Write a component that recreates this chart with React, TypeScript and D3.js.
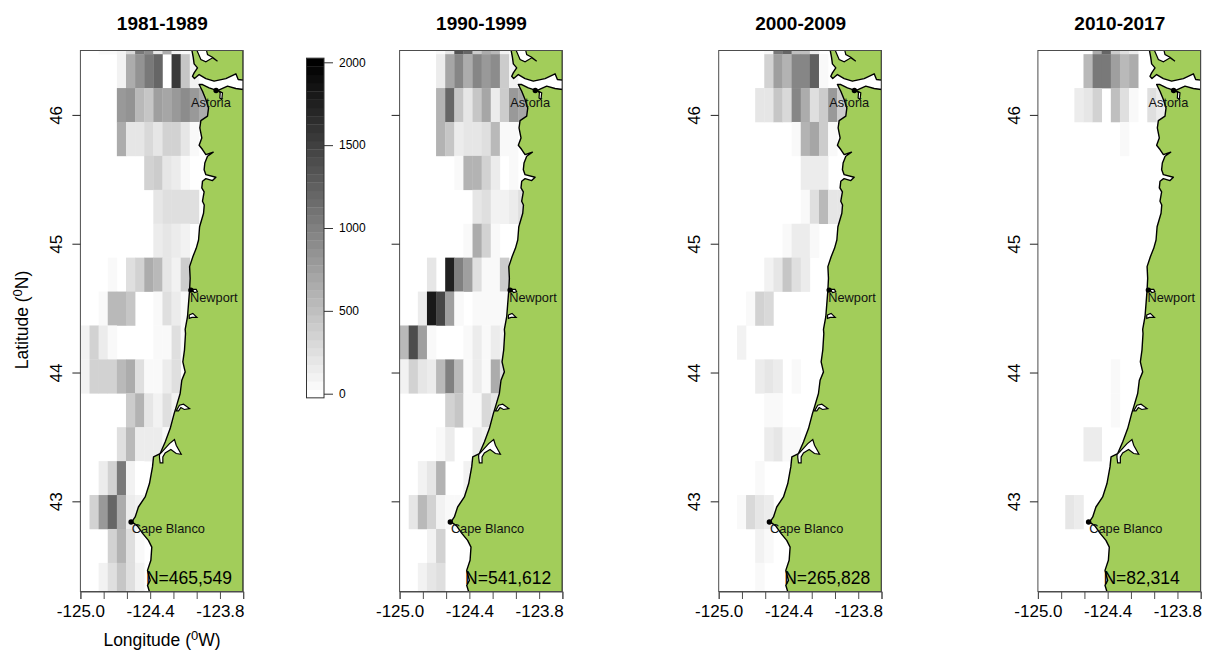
import React, { useEffect, useRef } from 'react';
import * as d3 from 'd3';

const width = 1206;
const height = 651;

const periods = ['1981-1989', '1990-1999', '2000-2009', '2010-2017'];
const totals = ['N=465,549', 'N=541,612', 'N=265,828', 'N=82,314'];

// catch per grid cell, rows north to south, columns west to east
const cells1981 = [
  [0, 0, 30, 60, 100, 300, 1050, 900, 200, 650, 100, 60, 0, 0],
  [0, 0, 0, 0, 80, 650, 870, 1050, 1180, 0, 1560, 430, 110, 0],
  [0, 0, 0, 0, 800, 870, 540, 470, 750, 680, 800, 880, 800, 650],
  [0, 0, 0, 0, 650, 210, 210, 310, 180, 340, 340, 210, 70, 0],
  [0, 0, 0, 0, 0, 0, 0, 340, 400, 210, 130, 70, 0, 0],
  [0, 0, 0, 0, 0, 0, 0, 0, 210, 240, 240, 270, 270, 0],
  [0, 0, 0, 0, 0, 0, 0, 0, 130, 210, 130, 110, 0, 0],
  [0, 0, 0, 70, 0, 240, 370, 650, 540, 210, 110, 400, 0, 0],
  [0, 0, 70, 540, 560, 470, 0, 0, 70, 270, 130, 50, 0, 0],
  [110, 370, 130, 70, 0, 0, 0, 0, 70, 70, 240, 70, 0, 0],
  [80, 340, 340, 340, 540, 650, 270, 70, 70, 130, 270, 0, 0, 0],
  [0, 0, 0, 0, 0, 400, 590, 210, 110, 240, 110, 0, 0, 0],
  [0, 0, 0, 0, 240, 560, 130, 130, 130, 70, 0, 0, 0, 0],
  [0, 0, 130, 340, 1050, 110, 20, 0, 0, 0, 0, 0, 0, 0],
  [0, 370, 800, 1200, 650, 130, 80, 0, 0, 0, 0, 0, 0, 0],
  [0, 0, 0, 340, 620, 240, 40, 0, 0, 0, 0, 0, 0, 0],
  [0, 0, 110, 270, 470, 240, 80, 0, 0, 0, 0, 0, 0, 0],
];

const cells1990 = [
  [0, 0, 0, 20, 60, 200, 1330, 1200, 400, 650, 540, 80, 0, 0],
  [0, 0, 0, 0, 130, 700, 940, 650, 940, 800, 910, 400, 110, 0],
  [0, 0, 0, 0, 620, 1200, 470, 210, 470, 700, 130, 400, 800, 680],
  [0, 0, 0, 0, 620, 430, 130, 210, 210, 240, 540, 50, 70, 0],
  [0, 0, 0, 0, 0, 0, 70, 620, 590, 370, 130, 0, 50, 0],
  [0, 0, 0, 0, 0, 0, 0, 0, 210, 240, 110, 110, 130, 240],
  [0, 0, 0, 0, 0, 0, 0, 70, 650, 340, 50, 0, 0, 0],
  [0, 0, 0, 210, 0, 1730, 1000, 750, 270, 50, 50, 400, 0, 0],
  [0, 0, 130, 1800, 1470, 750, 50, 0, 50, 50, 50, 50, 0, 0],
  [540, 1400, 750, 50, 0, 0, 0, 70, 130, 50, 130, 80, 0, 0],
  [110, 370, 210, 150, 560, 1000, 540, 50, 130, 70, 650, 270, 0, 0],
  [0, 0, 0, 0, 0, 370, 430, 70, 70, 310, 180, 0, 0, 0],
  [0, 0, 0, 0, 70, 130, 0, 0, 130, 80, 0, 0, 0, 0],
  [0, 0, 110, 180, 620, 0, 0, 80, 0, 0, 0, 0, 0, 0],
  [0, 210, 540, 370, 110, 70, 50, 0, 0, 0, 0, 0, 0, 0],
  [0, 0, 0, 110, 370, 0, 0, 0, 0, 0, 0, 0, 0, 0],
  [0, 0, 110, 210, 240, 0, 0, 0, 0, 0, 0, 0, 0, 0],
];

const cells2000 = [
  [0, 0, 0, 0, 0, 40, 1050, 1200, 500, 500, 130, 0, 0, 0],
  [0, 0, 0, 0, 0, 340, 750, 590, 940, 940, 1230, 70, 0, 0],
  [0, 0, 0, 0, 210, 210, 430, 310, 940, 650, 240, 400, 800, 400],
  [0, 0, 0, 0, 0, 0, 0, 0, 70, 620, 680, 400, 70, 0],
  [0, 0, 0, 0, 0, 0, 0, 0, 0, 130, 130, 130, 0, 0],
  [0, 0, 0, 0, 0, 0, 0, 0, 0, 70, 240, 560, 210, 210],
  [0, 0, 0, 0, 0, 0, 0, 70, 130, 130, 70, 0, 0, 0],
  [0, 0, 0, 0, 0, 110, 210, 470, 240, 130, 0, 0, 0, 0],
  [0, 0, 0, 70, 340, 310, 0, 0, 0, 0, 0, 0, 0, 0],
  [0, 0, 110, 0, 0, 0, 0, 0, 0, 0, 0, 0, 0, 0],
  [0, 0, 0, 0, 130, 210, 130, 0, 70, 0, 0, 0, 0, 0],
  [0, 0, 0, 0, 0, 70, 70, 0, 0, 0, 0, 0, 0, 0],
  [0, 0, 0, 0, 0, 130, 180, 70, 70, 0, 0, 0, 0, 0],
  [0, 0, 0, 0, 70, 0, 0, 0, 0, 0, 0, 0, 0, 0],
  [0, 0, 70, 310, 210, 130, 0, 0, 0, 0, 0, 0, 0, 0],
  [0, 0, 0, 0, 110, 70, 0, 0, 0, 0, 0, 0, 0, 0],
  [0, 0, 0, 0, 70, 0, 0, 0, 0, 0, 0, 0, 0, 0],
];

const cells2010 = [
  [0, 0, 0, 0, 0, 0, 650, 1200, 400, 270, 130, 0, 0, 0],
  [0, 0, 0, 0, 0, 540, 1050, 1050, 750, 560, 650, 0, 0, 0],
  [0, 0, 0, 0, 130, 180, 370, 0, 500, 240, 70, 0, 270, 130],
  [0, 0, 0, 0, 0, 0, 0, 0, 0, 70, 0, 0, 0, 0],
  [0, 0, 0, 0, 0, 0, 0, 0, 0, 0, 0, 0, 0, 0],
  [0, 0, 0, 0, 0, 0, 0, 0, 0, 0, 0, 0, 0, 0],
  [0, 0, 0, 0, 0, 0, 0, 0, 0, 0, 0, 0, 0, 0],
  [0, 0, 0, 0, 0, 0, 0, 0, 0, 0, 0, 0, 0, 0],
  [0, 0, 0, 0, 0, 0, 0, 0, 0, 0, 0, 0, 0, 0],
  [0, 0, 0, 0, 0, 0, 0, 0, 0, 0, 0, 0, 0, 0],
  [0, 0, 0, 0, 0, 0, 0, 0, 50, 0, 0, 0, 0, 0],
  [0, 0, 0, 0, 0, 0, 0, 0, 50, 0, 0, 0, 0, 0],
  [0, 0, 0, 0, 0, 130, 130, 0, 0, 0, 0, 0, 0, 0],
  [0, 0, 0, 0, 0, 0, 0, 0, 0, 0, 0, 0, 0, 0],
  [0, 0, 0, 180, 130, 0, 0, 0, 0, 0, 0, 0, 0, 0],
  [0, 0, 0, 0, 0, 0, 0, 0, 0, 0, 0, 0, 0, 0],
  [0, 0, 0, 0, 0, 0, 0, 0, 0, 0, 0, 0, 0, 0],
];

const panelCells = [cells1981, cells1990, cells2000, cells2010];

const lonTicks = [-125, -124.8, -124.6, -124.4, -124.2, -124, -123.8, -123.6];
const lonLabels = [-125, -124.4, -123.8];
const latTicks = [46, 45, 44, 43];
const colorTicks = [0, 500, 1000, 1500, 2000];

// land outline, north to south
const coast: [number, number][] = [
  [-123.6, 46.52], [-124.045, 46.52], [-124.03, 46.448], [-124.022, 46.396], [-123.993, 46.365], [-124.022, 46.326],
  [-124.036, 46.3], [-124.019, 46.282], [-123.979, 46.313], [-123.921, 46.282], [-123.85, 46.262], [-123.749, 46.282],
  [-123.663, 46.319], [-123.643, 46.275], [-123.6, 46.27], [-123.6, 46.197], [-123.663, 46.205], [-123.735, 46.223],
  [-123.821, 46.189], [-123.893, 46.21], [-123.95, 46.236], [-123.979, 46.236], [-123.95, 46.184], [-123.921, 46.119],
  [-123.898, 46.054], [-123.907, 45.99], [-123.964, 45.956], [-123.973, 45.899], [-123.956, 45.821], [-123.979, 45.764],
  [-123.95, 45.731], [-123.921, 45.692], [-123.858, 45.71], [-123.907, 45.679], [-123.93, 45.627], [-123.936, 45.575],
  [-123.921, 45.536], [-123.835, 45.516], [-123.864, 45.49], [-123.921, 45.505], [-123.95, 45.485], [-123.956, 45.433],
  [-123.936, 45.402], [-123.95, 45.33], [-123.935, 45.3], [-123.941, 45.236], [-123.975, 45.132], [-123.984, 45.029],
  [-124.004, 44.964], [-124.033, 44.899], [-124.061, 44.822], [-124.056, 44.731], [-124.061, 44.64], [-124.07, 44.537],
  [-124.079, 44.433], [-124.099, 44.335], [-124.096, 44.303], [-124.105, 44.174], [-124.119, 44.083], [-124.099, 44.005],
  [-124.128, 43.94], [-124.142, 43.837], [-124.176, 43.733], [-124.194, 43.681], [-124.228, 43.565], [-124.271, 43.461],
  [-124.314, 43.371], [-124.371, 43.345], [-124.38, 43.267], [-124.406, 43.138], [-124.443, 43.034], [-124.501, 42.956],
  [-124.529, 42.879], [-124.558, 42.84], [-124.51, 42.81], [-124.463, 42.749], [-124.415, 42.697], [-124.386, 42.645],
  [-124.394, 42.542], [-124.423, 42.464], [-124.4, 42.386], [-124.423, 42.348], [-124.4, 42.28], [-123.6, 42.28],
];

const bays: [number, number][][] = [
  [[-124.007, 46.52], [-123.964, 46.43], [-123.921, 46.412], [-123.864, 46.443], [-123.821, 46.417], [-123.864, 46.448], [-123.907, 46.469], [-123.921, 46.52]],
  [[-123.815, 46.189], [-123.778, 46.171], [-123.784, 46.119], [-123.801, 46.132], [-123.798, 46.171]],
  [[-124.041, 44.645], [-124.004, 44.645], [-123.993, 44.627], [-124.021, 44.62]],
  [[-124.064, 44.446], [-124.033, 44.459], [-123.998, 44.428], [-124.041, 44.428], [-124.064, 44.42]],
  [[-124.176, 43.702], [-124.148, 43.746], [-124.113, 43.754], [-124.061, 43.72], [-124.107, 43.713], [-124.136, 43.728], [-124.156, 43.702]],
  [[-124.32, 43.363], [-124.234, 43.448], [-124.191, 43.479], [-124.176, 43.435], [-124.133, 43.365], [-124.176, 43.371], [-124.222, 43.402], [-124.271, 43.376], [-124.291, 43.345], [-124.291, 43.298], [-124.314, 43.298], [-124.32, 43.34]],
];

const placeNames = ['Astoria', 'Newport', 'Cape Blanco'];
const placeLon = [-123.833, -124.05, -124.564];
const placeLat = [46.189, 44.64, 42.84];
const placeLabelLon = [-124.049, -124.058, -124.559];
const placeLabelLat = [46.062, 44.549, 42.751];

const lonStart = -125;
const lonStep = 0.0784;
const latTop = 46.735;
const latStep = 0.2633;

const panelLeft = [80.4, 399.6, 718.7, 1037.9];
const panelWidth = 162.8;
const panelTop = 50.5;
const panelBottom = 591.5;

const font = '"Liberation Sans", Arial, sans-serif';
const landColor = '#a2cd5a';
const frameColor = '#4d4d4d';

const grays = d3.range(41).map((i) => d3.rgb(255 * (1 - i / 40), 255 * (1 - i / 40), 255 * (1 - i / 40)).formatHex());
const color = d3.scaleQuantize<string>().domain([-25, 2025]).range(grays);

function App() {
  const ref = useRef<SVGSVGElement>(null);

  useEffect(() => {
    const svg = d3.select(ref.current);
    svg.selectAll('*').remove();
    svg.style('font-family', font);

    const y = d3.scaleLinear().domain([42.3, 46.5]).range([panelBottom, panelTop]);

    periods.forEach((period, p) => {
      const left = panelLeft[p];
      const x = d3.scaleLinear().domain([-125, -123.6]).range([left, left + panelWidth]);
      const clipId = `clip-${p}`;

      svg
        .append('clipPath')
        .attr('id', clipId)
        .append('rect')
        .attr('x', left)
        .attr('y', panelTop)
        .attr('width', panelWidth)
        .attr('height', panelBottom - panelTop);

      const map = svg.append('g').attr('clip-path', `url(#${clipId})`);

      panelCells[p].forEach((row, r) => {
        row.forEach((value, c) => {
          if (value === 0) return;
          const x0 = x(lonStart + c * lonStep);
          const x1 = x(lonStart + (c + 1) * lonStep);
          const y0 = y(latTop - r * latStep);
          const y1 = y(latTop - (r + 1) * latStep);
          map
            .append('rect')
            .attr('x', x0)
            .attr('y', y0)
            .attr('width', x1 - x0 + 0.3)
            .attr('height', y1 - y0 + 0.3)
            .attr('fill', color(value));
        });
      });

      const line = d3
        .line<[number, number]>()
        .x((d) => x(d[0]))
        .y((d) => y(d[1]))
        .curve(d3.curveLinearClosed);

      map
        .append('path')
        .attr('d', line(coast))
        .attr('fill', landColor)
        .attr('stroke', '#000')
        .attr('stroke-width', 1.4)
        .attr('stroke-linejoin', 'round');

      bays.forEach((bay) => {
        map
          .append('path')
          .attr('d', line(bay))
          .attr('fill', '#fff')
          .attr('stroke', '#000')
          .attr('stroke-width', 1.2);
      });

      placeNames.forEach((name, i) => {
        svg
          .append('circle')
          .attr('cx', x(placeLon[i]))
          .attr('cy', y(placeLat[i]))
          .attr('r', 2.7)
          .attr('fill', '#000');
        svg
          .append('text')
          .attr('x', x(placeLabelLon[i]))
          .attr('y', y(placeLabelLat[i]))
          .attr('font-size', 12.8)
          .attr('fill', '#111')
          .text(name);
      });

      svg
        .append('text')
        .attr('x', left + 65.5)
        .attr('y', 584)
        .attr('font-size', 17.5)
        .attr('fill', '#000')
        .text(totals[p]);

      svg
        .append('rect')
        .attr('x', left)
        .attr('y', panelTop)
        .attr('width', panelWidth)
        .attr('height', panelBottom - panelTop)
        .attr('fill', 'none')
        .attr('stroke', frameColor);

      const xAxis = svg
        .append('g')
        .attr('transform', `translate(0,${panelBottom})`)
        .call(
          d3
            .axisBottom(x)
            .tickValues(lonTicks)
            .tickSizeOuter(0)
            .tickSize(7.5)
            .tickPadding(6)
            .tickFormat((d) => (lonLabels.includes(d as number) ? d3.format('.1f')(d as number).replace('−', '-') : ''))
        );
      xAxis.selectAll('text').attr('font-size', 17).attr('font-family', font).attr('fill', '#000');
      xAxis.selectAll('line,path').attr('stroke', frameColor);

      const yAxis = svg
        .append('g')
        .attr('transform', `translate(${left},0)`)
        .call(
          d3
            .axisLeft(y)
            .tickValues(latTicks)
            .tickSizeOuter(0)
            .tickSize(8)
            .tickFormat((d) => (p === 1 ? '' : String(d)))
        );
      yAxis.select('.domain').remove();
      yAxis.selectAll('line').attr('stroke', '#222');
      yAxis
        .selectAll('text')
        .attr('font-size', 17)
        .attr('font-family', font)
        .attr('fill', '#000')
        .attr('text-anchor', 'middle')
        .attr('dy', 0)
        .attr('x', 0)
        .attr('y', 0)
        .attr('transform', 'translate(-18.4,0) rotate(-90)');

      svg
        .append('text')
        .attr('x', left + panelWidth / 2 + 0.5)
        .attr('y', 30)
        .attr('text-anchor', 'middle')
        .attr('font-size', 19)
        .attr('font-weight', 'bold')
        .attr('fill', '#000')
        .text(period);
    });

    // axis titles of the first panel
    const xTitle = svg
      .append('text')
      .attr('x', 162)
      .attr('y', 646)
      .attr('text-anchor', 'middle')
      .attr('font-size', 17.5)
      .attr('fill', '#000');
    xTitle.append('tspan').text('Longitude (');
    xTitle.append('tspan').attr('dy', -6).attr('font-size', 13).text('0');
    xTitle.append('tspan').attr('dy', 6).text('W)');

    const yTitle = svg
      .append('text')
      .attr('transform', 'translate(28,320) rotate(-90)')
      .attr('text-anchor', 'middle')
      .attr('font-size', 17.5)
      .attr('fill', '#000');
    yTitle.append('tspan').text('Latitude (');
    yTitle.append('tspan').attr('dy', -6).attr('font-size', 13).text('0');
    yTitle.append('tspan').attr('dy', 6).text('N)');

    // colour bar
    const barLeft = 306.5;
    const barWidth = 17.5;
    const barY = d3.scaleLinear().domain([0, 2000]).range([393.7, 62.3]);
    const bar = svg.append('g');
    grays.forEach((fill, i) => {
      bar
        .append('rect')
        .attr('x', barLeft)
        .attr('y', barY(i * 50 + 25))
        .attr('width', barWidth)
        .attr('height', barY(i * 50 - 25) - barY(i * 50 + 25) + 0.3)
        .attr('fill', fill);
    });
    bar
      .append('rect')
      .attr('x', barLeft)
      .attr('y', barY(2025))
      .attr('width', barWidth)
      .attr('height', barY(-25) - barY(2025))
      .attr('fill', 'none')
      .attr('stroke', '#333');

    const barAxis = svg
      .append('g')
      .attr('transform', `translate(${barLeft + barWidth},0)`)
      .call(d3.axisRight(barY).tickValues(colorTicks).tickSizeOuter(0).tickSize(9).tickPadding(6).tickFormat(d3.format('d')));
    barAxis.select('.domain').remove();
    barAxis.selectAll('line').attr('stroke', '#333');
    barAxis.selectAll('text').attr('font-size', 12).attr('font-family', font).attr('fill', '#000');
  }, []);

  return (
    <svg
      ref={ref}
      width={width}
      height={height}
      style={{ position: 'absolute', left: 0, top: 0, background: '#fff' }}
    />
  );
}

export default App;
